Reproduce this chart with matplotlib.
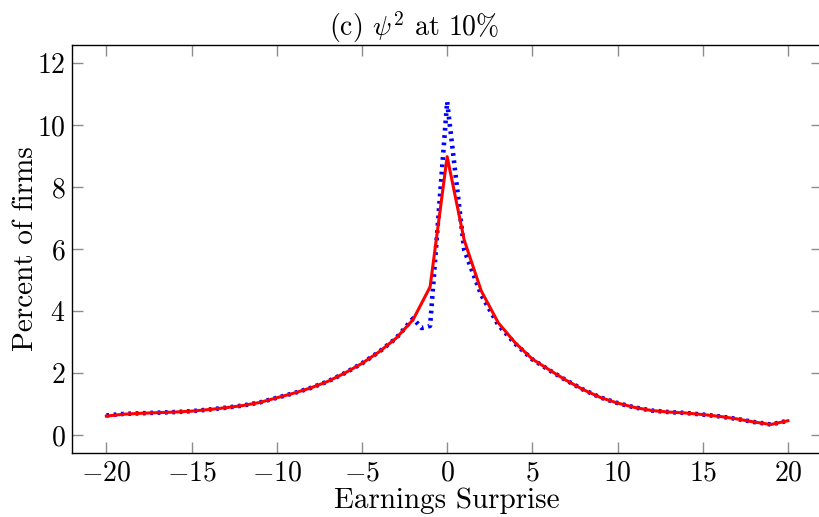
"""Earnings surprise distribution, panel (c)."""

import matplotlib
matplotlib.use('Agg')
import matplotlib.pyplot as plt

plt.rcParams['font.family'] = 'cmr10'
plt.rcParams['mathtext.fontset'] = 'cm'
plt.rcParams['axes.formatter.use_mathtext'] = True
plt.rcParams['axes.unicode_minus'] = True

# red (solid) series, one value per integer surprise
X_RED = list(range(-20, 21))
Y_RED = [0.61, 0.67, 0.70, 0.72, 0.74, 0.77, 0.82, 0.88, 0.95, 1.05,
         1.20, 1.35, 1.52, 1.73, 2.00, 2.31, 2.68, 3.12, 3.72, 4.78,
         8.98,
         6.29, 4.65, 3.62, 2.97, 2.45, 2.10, 1.76, 1.46, 1.21, 1.03,
         0.89, 0.79, 0.74, 0.71, 0.66, 0.60, 0.52, 0.42, 0.34, 0.46]

# blue (dotted) series, extra point at -1.5
X_BLUE = list(range(-20, -1)) + [-1.5] + list(range(-1, 21))
Y_BLUE = [0.63, 0.68, 0.70, 0.72, 0.74, 0.77, 0.82, 0.88, 0.95, 1.05,
          1.20, 1.35, 1.52, 1.73, 2.00, 2.31, 2.68, 3.12, 3.76, 3.45,
          3.52, 10.75,
          5.97, 4.52, 3.55, 2.94, 2.44, 2.09, 1.76, 1.46, 1.21, 1.03,
          0.89, 0.79, 0.74, 0.71, 0.66, 0.60, 0.52, 0.42, 0.34, 0.46]

X_TICKS = [-20, -15, -10, -5, 0, 5, 10, 15, 20]
Y_TICKS = [0, 2, 4, 6, 8, 10, 12]

fig = plt.figure(figsize=(8.2, 5.17), dpi=100)
ax = fig.add_axes([72.3 / 820, 63.7 / 517, (822 - 72.3) / 820, (453.3 - 44.7) / 517])

ax.plot(X_BLUE, Y_BLUE, color='blue', linestyle=(0, (0.6, 1.0)), linewidth=3.3,
        solid_capstyle='butt', dash_capstyle='butt')
ax.plot(X_RED, Y_RED, color='red', linewidth=2.2)

ax.set_xlim(-22, 22)
ax.set_ylim(-0.59, 12.59)
ax.set_xticks(X_TICKS)
ax.set_yticks(Y_TICKS)
ax.set_xticklabels([f'${t}$' if t >= 0 else f'$-{abs(t)}$' for t in X_TICKS])
ax.set_yticklabels([f'${t}$' for t in Y_TICKS])

ax.tick_params(direction='in', top=True, right=True, length=8, width=1,
               color='0.55', labelsize=20, pad=5)
for sp in ax.spines.values():
    sp.set_linewidth(1.0)

# caption is centred on the whole figure, not on the axes
fig.text(414 / 820, 1 - 27 / 517, r'(c) $\psi^2$ at 10%', fontsize=20,
         ha='center', va='center')
ax.set_xlabel('Earnings Surprise', fontsize=21, labelpad=1)
ax.set_ylabel('Percent of firms', fontsize=21, labelpad=-2)

fig.savefig('out.png', dpi=100)
